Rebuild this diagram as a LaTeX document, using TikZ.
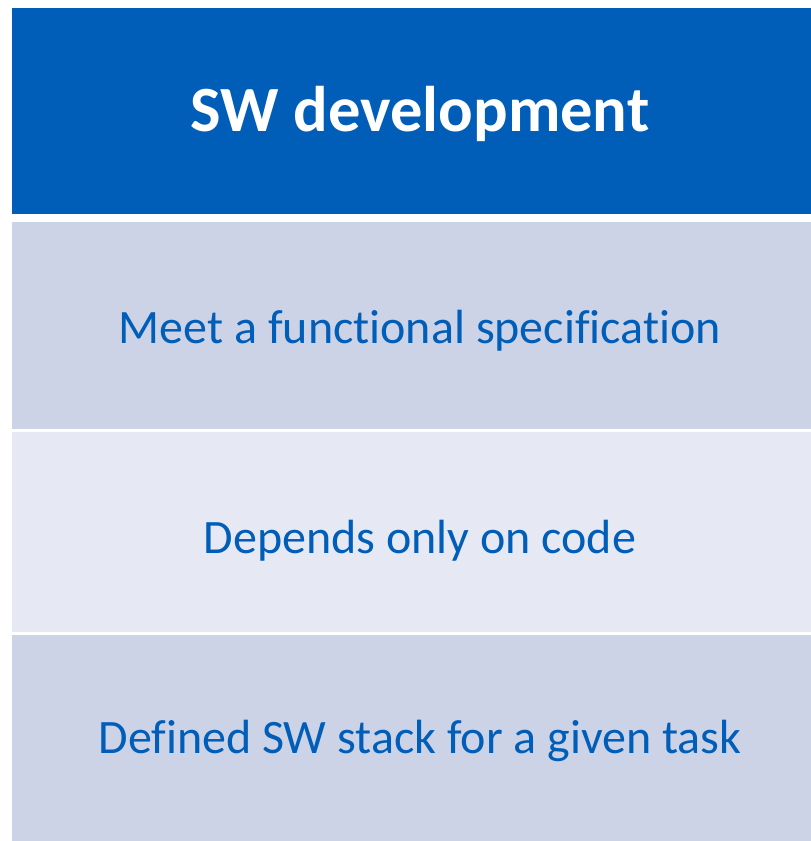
\documentclass[tikz,border=0pt]{standalone}
\usepackage{fontspec}
\setmainfont{Carlito}[Ligatures=NoCommon]
\definecolor{hdr}{RGB}{0,94,184}
\definecolor{rowa}{RGB}{204,211,230}
\definecolor{rowb}{RGB}{230,233,243}
\definecolor{txt}{RGB}{0,94,184}
\tikzset{
  cell/.style={fill=#1, draw=none},
  rowtext/.style={text=txt, font=\fontsize{48}{56}\selectfont, inner sep=0pt},
  hdrtext/.style={text=white, font=\fontsize{64.5}{72}\bfseries\selectfont, inner sep=0pt}
}
\begin{document}
\begin{tikzpicture}[x=1pt,y=-1pt]
\useasboundingbox (0,0) rectangle (811,841);
\fill[cell=hdr] (11.5,8) rectangle (811,214);
\fill[cell=rowa] (11.5,222) rectangle (811,429);
\fill[cell=rowb] (11.5,432) rectangle (811,632);
\fill[cell=rowa] (11.5,635) rectangle (811,841);
\node[hdrtext] (h) at (420,114) {SW development};
\node[rowtext] (r1) at (420,331) {Meet a functional specification};
\node[rowtext] (r2) at (420,541) {Depends only on code};
\node[rowtext] (r3) at (420,741) {Defined SW stack for a given task};
\end{tikzpicture}
\end{document}
